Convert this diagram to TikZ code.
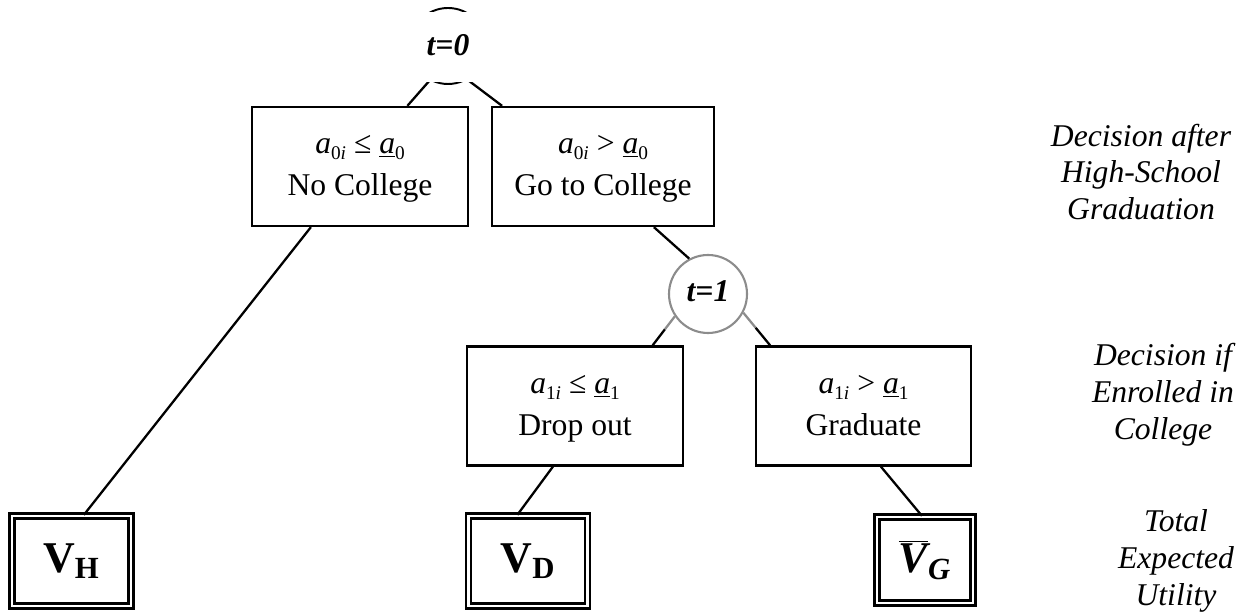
\documentclass[tikz,border=0pt]{standalone}
\usepackage{fontspec}
\setmainfont{Liberation Serif}
\usetikzlibrary{calc}
\definecolor{ringgray}{RGB}{140,140,140}
\newcommand{\lowidx}[1]{\raisebox{-0.4ex}{\fontsize{11}{11}\selectfont #1}}
\newcommand{\toprow}{\rule{0pt}{14pt}}
\newcommand{\lowrow}{\rule[-4.5pt]{0pt}{4.5pt}}
\tikzset{
  choice/.style={draw, line width=1.3pt, minimum width=4.32cm, minimum height=2.38cm,
    align=center, font=\fontsize{18}{24}\selectfont},
  payoff/.style={draw, double, double distance=1.6pt, line width=1.3pt,
    minimum width=2.38cm, minimum height=1.8cm, font=\fontsize{25}{25}\selectfont\bfseries},
  stage/.style={circle, minimum size=1.52cm, inner sep=0pt},
  note/.style={align=center, font=\fontsize{18}{21}\selectfont\itshape},
  branch/.style={line width=1.3pt}
}

\begin{document}
\begin{tikzpicture}
  \useasboundingbox (0,0) rectangle (25.12,12.3);

  % periods
  \node[stage, draw, line width=1.1pt] (t0) at (8.96,11.38) {};
  \node[stage, draw=ringgray, line width=1.2pt, fill=white, minimum size=1.56cm,
    font=\fontsize{18}{18}\selectfont\bfseries\itshape] (t1) at (14.16,6.42) {\raisebox{0.1cm}{t=1}};

  % decisions
  \node[choice] (nocol) at (7.2,8.97) {\toprow\textit{a}\lowidx{0\textit{i}} ≤ \underline{\textit{a}}\lowidx{0}\\No College\lowrow};
  \node[choice, minimum width=4.44cm] (gocol) at (12.06,8.97) {\toprow\textit{a}\lowidx{0\textit{i}} > \underline{\textit{a}}\lowidx{0}\\Go to College\lowrow};
  \node[choice] (drop) at (11.5,4.18) {\toprow\textit{a}\lowidx{1\textit{i}} ≤ \underline{\textit{a}}\lowidx{1}\\Drop out\lowrow};
  \node[choice, minimum width=4.3cm] (grad) at (17.27,4.18) {\toprow\textit{a}\lowidx{1\textit{i}} > \underline{\textit{a}}\lowidx{1}\\Graduate\lowrow};

  % utilities
  \node[payoff] (vh) at (1.43,1.08) {V\textsubscript{H}};
  \node[payoff] (vd) at (10.56,1.08) {V\textsubscript{D}};
  \node[payoff, minimum width=1.92cm, minimum height=1.72cm, font=\fontsize{25}{25}\selectfont\bfseries\itshape]
    (vg) at (18.5,1.1) {$\overline{\mbox{V}}$\textsubscript{G}};

  % branches
  \draw[branch] (t0.242) -- (nocol.52);
  \draw[branch] (t0.300) -- (gocol.149);
  \node[fill=white, minimum width=2cm, minimum height=1.4cm,
    font=\fontsize{18}{18}\selectfont\bfseries\itshape] (t0lab) at (8.96,11.36) {\raisebox{0.1cm}{t=0}};

  \draw[branch] (gocol.310) -- (t1.118);
  \coordinate (gl) at ($(t1.214)!0.45!(drop.38)$);
  \coordinate (gr) at ($(t1.332)!0.46!(grad.147)$);
  \draw[branch, ringgray] (t1.214) -- (gl);
  \draw[branch] (gl) -- (drop.38);
  \draw[branch, ringgray] (t1.332) -- (gr);
  \draw[branch] (gr) -- (grad.147);

  \draw[branch] (nocol.231) -- (vh.75);
  \draw[branch] (drop.250) -- (vd.103);
  \draw[branch] (grad.286) -- (vg.94);

  % stage notes
  \node[note] (n1) at (22.82,8.86) {Decision after\\High-School\\Graduation};
  \node[note] (n2) at (23.26,4.4) {Decision if\\Enrolled in\\College};
  \node[note] (n3) at (23.52,1.08) {Total\\Expected\\Utility};
\end{tikzpicture}
\end{document}
